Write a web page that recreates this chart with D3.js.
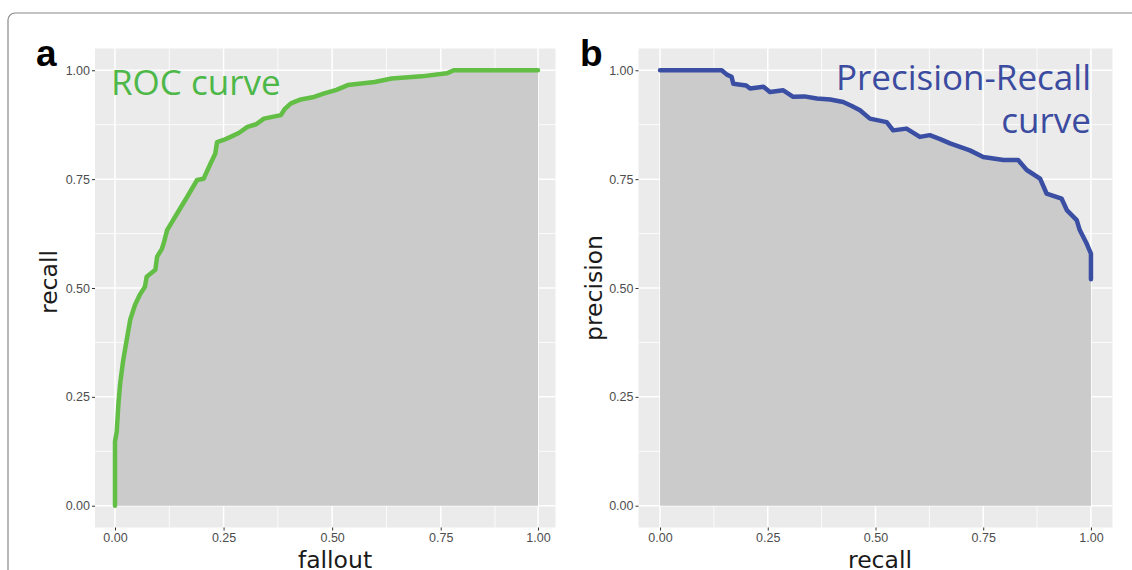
<!DOCTYPE html>
<html>
<head>
<meta charset="utf-8">
<title>ROC and Precision-Recall curves</title>
<script src="https://cdnjs.cloudflare.com/ajax/libs/d3/7.8.5/d3.min.js"></script>
<style>
body { margin: 0; background: #fff; }
.tick line { stroke: #333; }
.tick text { fill: #4d4d4d; font: 12.5px "Liberation Sans", Arial, sans-serif; }
.axis-title { font: 23.5px "DejaVu Sans", sans-serif; fill: #1a1a1a; }
.panel-tag { font: bold 37px "Liberation Sans", Arial, sans-serif; fill: #000; }
.curve-label { font-family: "Open Sans", sans-serif; font-size: 35px; }
</style>
</head>
<body>
<svg id="chart" width="1132" height="570"></svg>
<script>
// values
var rocFallout = [0, 0, 0.004, 0.008, 0.012, 0.019, 0.027, 0.035, 0.046, 0.058, 0.069, 0.073,
  0.093, 0.097, 0.108, 0.112, 0.120, 0.143, 0.166, 0.189, 0.204, 0.220, 0.231, 0.235,
  0.250, 0.266, 0.285, 0.305, 0.325, 0.343, 0.382, 0.390, 0.405, 0.428, 0.455, 0.482,
  0.510, 0.536, 0.598, 0.637, 0.706, 0.764, 0.78, 1.0];
var rocRecall = [0, 0.147, 0.17, 0.236, 0.282, 0.335, 0.381, 0.427, 0.461, 0.486, 0.503, 0.526,
  0.542, 0.572, 0.59, 0.602, 0.633, 0.671, 0.709, 0.748, 0.751, 0.786, 0.809, 0.835,
  0.840, 0.847, 0.856, 0.870, 0.876, 0.889, 0.897, 0.910, 0.924, 0.933, 0.938, 0.947,
  0.955, 0.966, 0.973, 0.981, 0.986, 0.993, 1.0, 1.0];

var prRecall = [0, 0.143, 0.155, 0.166, 0.170, 0.200, 0.209, 0.240, 0.255, 0.286, 0.309, 0.335,
  0.364, 0.395, 0.425, 0.445, 0.464, 0.487, 0.526, 0.541, 0.572, 0.603, 0.626, 0.650, 0.673,
  0.719, 0.750, 0.797, 0.831, 0.851, 0.882, 0.897, 0.932, 0.944, 0.967, 0.974, 0.990, 1.0, 1.0];
var prPrecision = [1.0, 1.0, 0.99, 0.985, 0.969, 0.965, 0.958, 0.962, 0.950, 0.954, 0.939, 0.940,
  0.935, 0.933, 0.927, 0.918, 0.908, 0.889, 0.881, 0.862, 0.866, 0.847, 0.851, 0.842, 0.832,
  0.816, 0.801, 0.794, 0.794, 0.771, 0.751, 0.717, 0.705, 0.679, 0.656, 0.633, 0.602, 0.579, 0.52];

var majorTicks = [0, 0.25, 0.5, 0.75, 1];
var tickLabels = ["0.00", "0.25", "0.50", "0.75", "1.00"];
var minorTicks = [0.125, 0.375, 0.625, 0.875];

var svg = d3.select("#chart");

// figure frame (runs off the right and bottom edges)
svg.append("rect")
  .attr("x", 8).attr("y", 13)
  .attr("width", 1160).attr("height", 600)
  .attr("rx", 7)
  .attr("fill", "none")
  .attr("stroke", "#888")
  .attr("stroke-width", 1.2);

var y = d3.scaleLinear().domain([-0.05, 1.05]).range([527.5, 48.5]);

// panel a: the reference is squeezed near its right edge, so piecewise range
var xA = d3.scaleLinear()
  .domain([-0.05, 0, 0.875, 1, 1.05])
  .range([95, 115, 495, 538, 555.5]);
var xB = d3.scaleLinear().domain([-0.05, 1.05]).range([638.5, 1112.5]);

function drawPanel(opt) {
  var x = opt.x;
  var g = svg.append("g");
  var x0 = x.range()[0], x1 = x.range()[x.range().length - 1];
  var y0 = y.range()[0], y1 = y.range()[1];

  g.append("rect")
    .attr("x", x0).attr("y", y1)
    .attr("width", x1 - x0).attr("height", y0 - y1)
    .attr("fill", "#ebebeb");

  // grid
  g.selectAll(".minor-v").data(minorTicks).enter().append("line")
    .attr("x1", function(d) { return x(d); }).attr("x2", function(d) { return x(d); })
    .attr("y1", y1).attr("y2", y0)
    .attr("stroke", "#fff").attr("stroke-width", 0.8);
  g.selectAll(".minor-h").data(minorTicks).enter().append("line")
    .attr("y1", function(d) { return y(d); }).attr("y2", function(d) { return y(d); })
    .attr("x1", x0).attr("x2", x1)
    .attr("stroke", "#fff").attr("stroke-width", 0.8);
  g.selectAll(".major-v").data(majorTicks).enter().append("line")
    .attr("x1", function(d) { return x(d); }).attr("x2", function(d) { return x(d); })
    .attr("y1", y1).attr("y2", y0)
    .attr("stroke", "#fff").attr("stroke-width", 1.5);
  g.selectAll(".major-h").data(majorTicks).enter().append("line")
    .attr("y1", function(d) { return y(d); }).attr("y2", function(d) { return y(d); })
    .attr("x1", x0).attr("x2", x1)
    .attr("stroke", "#fff").attr("stroke-width", 1.5);

  var pts = opt.xs.map(function(v, i) { return [v, opt.ys[i]]; });

  var area = d3.area()
    .x(function(d) { return x(d[0]); })
    .y0(y(0))
    .y1(function(d) { return y(d[1]); });
  g.append("path").datum(pts)
    .attr("d", area)
    .attr("fill", "#cbcbcb");

  var line = d3.line()
    .x(function(d) { return x(d[0]); })
    .y(function(d) { return y(d[1]); });
  g.append("path").datum(pts)
    .attr("d", line)
    .attr("fill", "none")
    .attr("stroke", opt.color)
    .attr("stroke-width", 4.5)
    .attr("stroke-linejoin", "round")
    .attr("stroke-linecap", "round");

  var fmt = function(d, i) { return tickLabels[i]; };

  var ax = g.append("g")
    .attr("transform", "translate(0," + y0 + ")")
    .call(d3.axisBottom(x).tickValues(majorTicks).tickFormat(fmt).tickSize(3).tickPadding(3));
  ax.select(".domain").remove();

  var ay = g.append("g")
    .attr("transform", "translate(" + x0 + ",0)")
    .call(d3.axisLeft(y).tickValues(majorTicks).tickFormat(fmt).tickSize(3).tickPadding(2));
  ay.select(".domain").remove();

  g.append("text")
    .attr("class", "axis-title")
    .attr("x", opt.xTitleX).attr("y", 568)
    .attr("text-anchor", "middle")
    .text(opt.xTitle);

  g.append("text")
    .attr("class", "axis-title")
    .attr("transform", "translate(" + opt.yTitleX + "," + opt.yTitleY + ") rotate(-90)")
    .attr("text-anchor", "middle")
    .text(opt.yTitle);

  g.append("text")
    .attr("class", "panel-tag")
    .attr("x", opt.tagX).attr("y", 66)
    .text(opt.tag);
}

drawPanel({
  x: xA, xs: rocFallout, ys: rocRecall, color: "#62be45",
  xTitle: "fallout", xTitleX: 335, yTitle: "recall", yTitleX: 57, yTitleY: 282,
  tag: "a", tagX: 36
});

drawPanel({
  x: xB, xs: prRecall, ys: prPrecision, color: "#3a4fa3",
  xTitle: "recall", xTitleX: 880, yTitle: "precision", yTitleX: 602, yTitleY: 288,
  tag: "b", tagX: 580
});

// curve names
svg.append("text")
  .attr("class", "curve-label")
  .attr("x", 111).attr("y", 95)
  .attr("fill", "#4db848")
  .text("ROC curve");

svg.append("text")
  .attr("class", "curve-label")
  .attr("x", 1091).attr("y", 90)
  .attr("text-anchor", "end")
  .attr("fill", "#3b4ca0")
  .text("Precision-Recall");

svg.append("text")
  .attr("class", "curve-label")
  .attr("x", 1091).attr("y", 133)
  .attr("text-anchor", "end")
  .attr("fill", "#3b4ca0")
  .text("curve");
</script>
</body>
</html>
